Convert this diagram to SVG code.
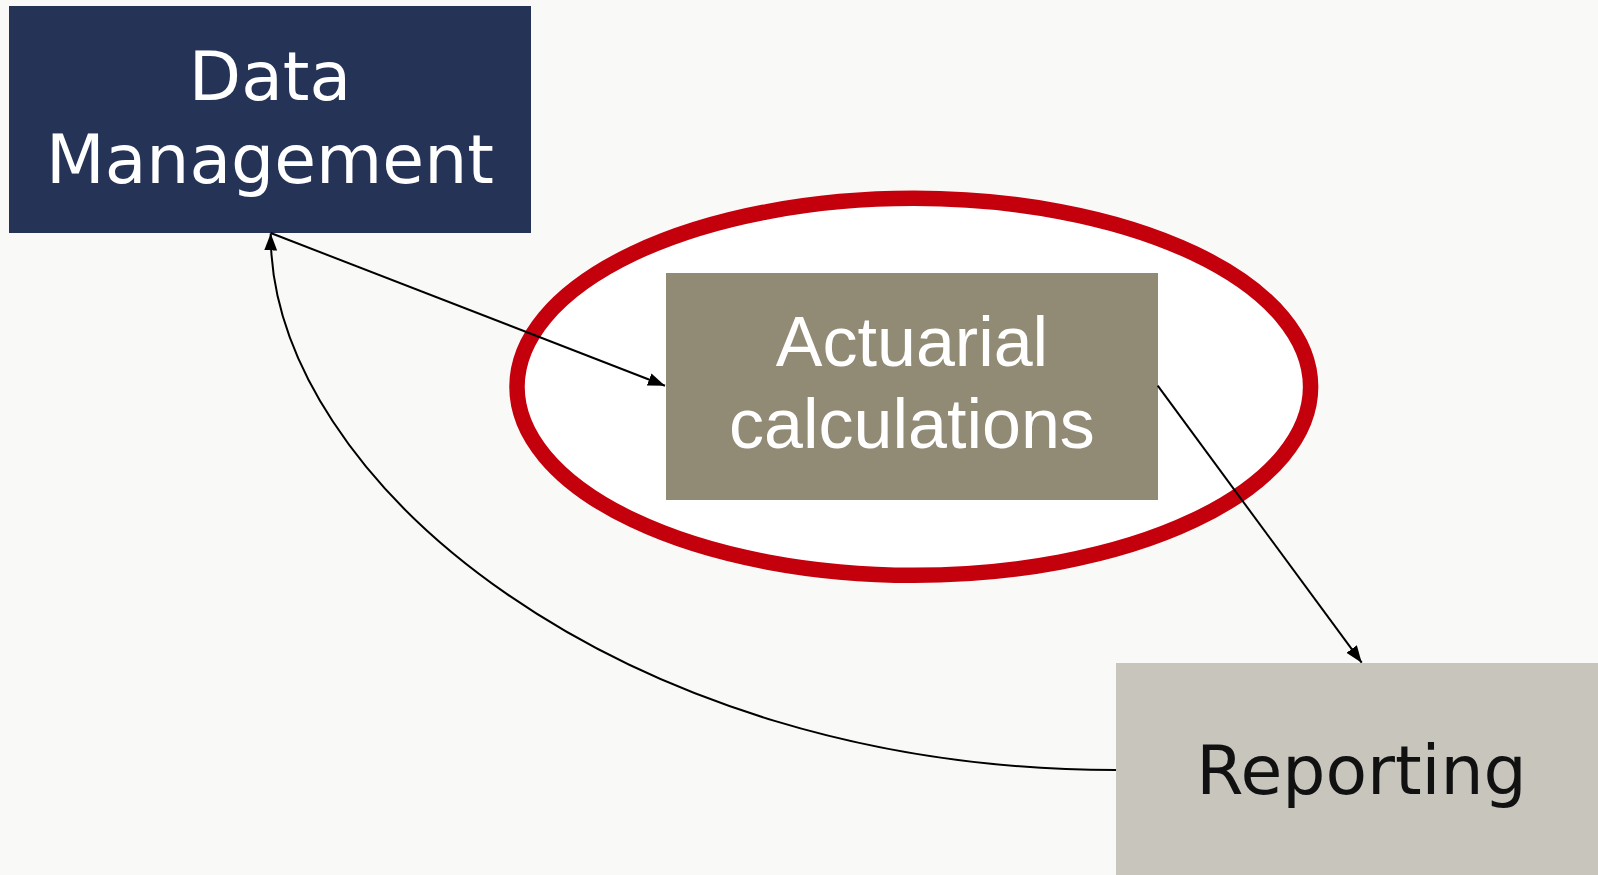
<svg xmlns="http://www.w3.org/2000/svg" width="1598" height="875" viewBox="0 0 1598 875">
  <style>
    .conn { fill: none; stroke: #000; stroke-width: 2; }
    .dv { font-family: "DejaVu Sans", Verdana, sans-serif; text-anchor: middle; }
    .ls { font-family: "Liberation Sans", Arial, sans-serif; text-anchor: middle; }
  </style>
  <defs>
    <marker id="arrow" markerUnits="userSpaceOnUse" markerWidth="18" markerHeight="14" refX="17" refY="7" orient="auto">
      <path d="M0,0.5 L17,7 L0,13.5 z" fill="#000"/>
    </marker>
  </defs>
  <rect x="0" y="0" width="1598" height="875" fill="#F9F9F7"/>

  <g id="focus-ellipse">
    <ellipse cx="913.8" cy="386.8" rx="396.8" ry="188.5" fill="#FFFFFF" stroke="#C5000D" stroke-width="15.5"/>
  </g>

  <g id="data-management">
    <rect x="9" y="6" width="522" height="227" fill="#253356"/>
    <text class="dv" x="270" y="100" font-size="68" fill="#FFFFFF">Data</text>
    <text class="dv" x="270" y="183" font-size="68" fill="#FFFFFF">Management</text>
  </g>

  <g id="actuarial-calculations">
    <rect x="666" y="273" width="492" height="227" fill="#918A75"/>
    <text class="ls" x="912" y="366" font-size="70" fill="#FFFFFF">Actuarial</text>
    <text class="ls" x="912" y="448" font-size="70" fill="#FFFFFF">calculations</text>
  </g>

  <g id="reporting">
    <rect x="1116" y="663" width="490" height="212" fill="#C8C5BD"/>
    <text class="dv" x="1361.5" y="794" font-size="68" fill="#111111">Reporting</text>
  </g>

  <g id="connectors">
    <path class="conn" d="M270.7,233 L665,385.7" marker-end="url(#arrow)"/>
    <path class="conn" d="M1157.7,385.7 L1361.7,662.7" marker-end="url(#arrow)"/>
    <path class="conn" d="M1116,770 C620,770 270,480 270.7,233.5" marker-end="url(#arrow)"/>
  </g>
</svg>
